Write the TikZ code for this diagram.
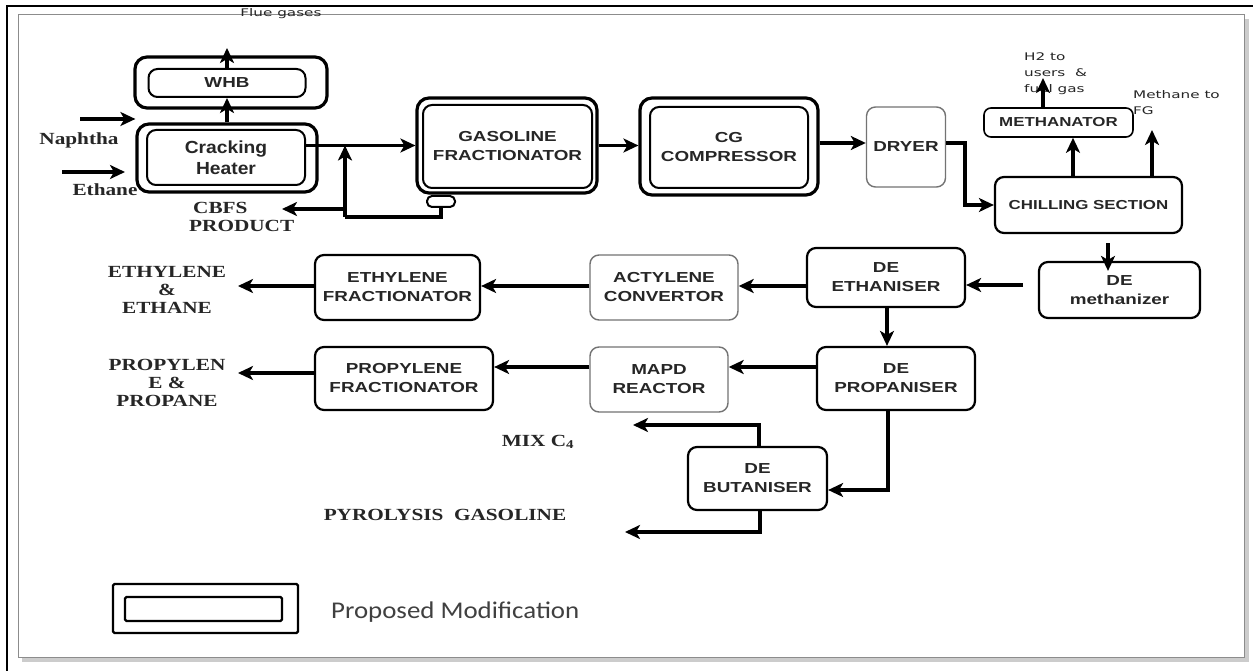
\documentclass[tikz,border=0pt]{standalone}
\usepackage{fontspec}
\usetikzlibrary{arrows.meta}
\newfontfamily\boxfont[FakeStretch=1.3]{Liberation Sans}
\newfontfamily\heatfont[FakeStretch=1.1]{Liberation Sans}
\newfontfamily\labfont[FakeStretch=1.25]{Liberation Serif}
\newfontfamily\notefont[FakeStretch=1.45]{DejaVu Sans}
\newfontfamily\legfont[FakeStretch=1.12]{Carlito}

\tikzset{
  unitbox/.style={draw, rounded corners=9pt, line width=2.2pt, align=center, inner sep=0pt,
    text=black!85, font={\boxfont\bfseries\fontsize{14.5pt}{19pt}\selectfont}},
  smallunit/.style={unitbox, font={\boxfont\bfseries\fontsize{13pt}{17pt}\selectfont}},
  lightbox/.style={unitbox, draw=black!55, line width=1.4pt},
  outerbox/.style={draw, rounded corners=12pt, line width=3.2pt, inner sep=0pt},
  innerbox/.style={unitbox, rounded corners=9pt, line width=2pt},
  flow/.style={line width=3.2pt},
  arr/.style={flow, -{Stealth[length=15pt,width=14pt,inset=4pt]}},
  lab/.style={align=center, inner sep=0pt, text=black!85,
    font={\labfont\bfseries\fontsize{17pt}{18pt}\selectfont}},
  note/.style={inner sep=0pt, text=black!85,
    font={\notefont\fontsize{10.5pt}{16pt}\selectfont}},
}

\begin{document}
\begin{tikzpicture}[x=1pt,y=-1pt]
\useasboundingbox (0,0) rectangle (1253,671);
\fill[white] (0,0) rectangle (1253,671);

% page frame with its shadow
\draw[black!20, line width=4pt] (22,660) -- (1247,660) -- (1247,19);
\draw[black!45, line width=1pt] (18,15) rectangle (1244,657);
\draw[line width=2pt] (7,671) -- (7,6) -- (1253,6);

% cracking section
\node[outerbox, minimum width=192pt, minimum height=51pt] (whbO) at (231,82.5) {};
\node[innerbox, minimum width=157pt, minimum height=28pt] (whb) at (227,83) {WHB};
\node[outerbox, minimum width=180pt, minimum height=68pt] (heatO) at (227,158) {};
\node[innerbox, minimum width=158pt, minimum height=55pt,
  font={\heatfont\bfseries\fontsize{17.5pt}{21pt}\selectfont}] (heat) at (226,157.5) {Cracking\\Heater};

% hot section
\node[outerbox, minimum width=180pt, minimum height=95pt] (gasO) at (507,145.5) {};
\node[innerbox, minimum width=169pt, minimum height=83pt] (gas) at (507.5,146.5) {GASOLINE\\FRACTIONATOR};
\node[draw, rounded corners=5pt, line width=2pt, minimum width=28pt, minimum height=11pt, inner sep=0pt] (pot) at (441,201.5) {};
\node[outerbox, minimum width=178pt, minimum height=97pt] (cgO) at (729,146.5) {};
\node[innerbox, minimum width=158pt, minimum height=81pt] (cg) at (729,147.5) {CG\\COMPRESSOR};
\node[lightbox, minimum width=79pt, minimum height=80pt] (dryer) at (906,147) {DRYER};

% cold section
\node[smallunit, minimum width=187pt, minimum height=56pt] (chill) at (1088.5,205) {CHILLING SECTION};
\node[smallunit, line width=1.6pt, rounded corners=7pt, minimum width=149pt, minimum height=29pt] (meth) at (1058.5,122.5) {METHANATOR};
\node[unitbox, minimum width=161pt, minimum height=56pt] (demeth) at (1119.5,290) {DE\\methanizer};
\node[unitbox, minimum width=158pt, minimum height=59pt] (deeth) at (886,277.5) {DE\\ETHANISER};
\node[lightbox, minimum width=148pt, minimum height=65pt] (acty) at (664,287.5) {ACTYLENE\\CONVERTOR};
\node[unitbox, minimum width=165pt, minimum height=65pt] (ethfr) at (397.5,287.5) {ETHYLENE\\FRACTIONATOR};
\node[unitbox, minimum width=158pt, minimum height=63pt] (deprop) at (896,378.5) {DE\\PROPANISER};
\node[lightbox, minimum width=138pt, minimum height=65pt] (mapd) at (659,379.5) {MAPD\\REACTOR};
\node[unitbox, minimum width=178pt, minimum height=63pt] (propfr) at (404,378.5) {PROPYLENE\\FRACTIONATOR};
\node[unitbox, minimum width=139pt, minimum height=63pt] (debut) at (757.5,478.5) {DE\\BUTANISER};

% stream labels
\node[note] (fluel) at (281,14) {Flue gases};
\node[lab] (naphl) at (79,140) {Naphtha};
\node[lab] (ethl) at (105,190) {Ethane};
\node[lab, align=left, anchor=west] (cbfsl) at (189,217) {\hspace{4pt}CBFS\\PRODUCT};
\node[note, align=left, anchor=west] (h2l) at (1024,74) {H2 to\\users~~\&\\fuel gas};
\node[note, align=left, anchor=west] (mfgl) at (1133,103) {Methane to\\FG};
\node[lab] (ethyl) at (167,290) {ETHYLENE\\\&\\ETHANE};
\node[lab] (propyl) at (167,383) {PROPYLEN\\E \&\\PROPANE};
\node[lab] (mixl) at (538,442) {MIX C\textsubscript{4}};
\node[lab] (pyrol) at (445,515) {PYROLYSIS\ \ GASOLINE};

% junctions and free ends
\coordinate (flue) at (227,48);
\coordinate (naph) at (80,119);
\coordinate (eth0) at (62,172);
\coordinate (eth1) at (125,172);
\coordinate (rj) at (345,217);
\coordinate (cbj) at (345,209);
\coordinate (cbt) at (282,209);
\coordinate (dk) at (965,143);
\coordinate (mx1) at (1073,0);
\coordinate (mx2) at (1043,0);
\coordinate (mx3) at (1152,0);
\coordinate (mx4) at (1108,0);
\coordinate (h2) at (1043,78);
\coordinate (mfg) at (1152,130);
\coordinate (dmo) at (1023,285);
\coordinate (r1) at (0,286);
\coordinate (r2) at (0,367);
\coordinate (eo) at (238,286);
\coordinate (po) at (238,373);
\coordinate (dx) at (887,0);
\coordinate (bj) at (888,490);
\coordinate (c4j) at (759,425);
\coordinate (c4t) at (633,425);
\coordinate (pgj) at (760,532);
\coordinate (pgt) at (625,532);

% streams
\draw[arr] (heatO.north) -- (whb.south);
\draw[arr] (whb.north) -- (flue);
\draw[arr] (naph) -- (naph -| heatO.west);
\draw[arr] (eth0) -- (eth1);
\draw[arr] (heat.east |- gasO.west) -- (gasO.west);
\draw[flow] (pot.south) |- (rj);
\draw[arr] (rj) -- (rj |- gasO.west);
\draw[arr] (cbj) -- (cbt);
\draw[arr] (gasO.east) -- (gasO.east -| cgO.west);
\draw[arr] (cgO.east |- dk) -- (dk -| dryer.west);
\draw[arr] (dryer.east |- dk) -- (dk) |- (chill.west);
\draw[arr] (chill.north -| mx1) -- (meth.south -| mx1);
\draw[arr] (meth.north -| mx2) -- (h2);
\draw[arr] (chill.north -| mx3) -- (mfg);
\draw[arr, shorten <=9pt, shorten >=-10pt] (chill.south -| mx4) -- (demeth.north -| mx4);
\draw[arr] (dmo) -- (dmo -| deeth.east);
\draw[arr] (deeth.west |- r1) -- (acty.east |- r1);
\draw[arr] (acty.west |- r1) -- (ethfr.east |- r1);
\draw[arr] (ethfr.west |- r1) -- (eo);
\draw[arr] (deeth.south -| dx) -- (deprop.north -| dx);
\draw[arr] (deprop.west |- r2) -- (mapd.east |- r2);
\draw[arr] (mapd.west |- r2) -- (propfr.east |- r2);
\draw[arr] (propfr.west |- po) -- (po);
\draw[arr] (deprop.south -| bj) -- (bj) -- (bj -| debut.east);
\draw[arr] (debut.north -| c4j) -- (c4j) -- (c4t);
\draw[arr] (debut.south -| pgj) -- (pgj) -- (pgt);

% legend
\node[draw, line width=2.4pt, rounded corners=1.5pt, minimum width=185pt, minimum height=49pt, inner sep=0pt] (legO) at (205.5,608.5) {};
\node[draw, line width=2.4pt, rounded corners=1.5pt, minimum width=157pt, minimum height=24pt, inner sep=0pt] (legI) at (203.5,609) {};
\node[anchor=west, inner sep=0pt, text=black!75, font={\legfont\fontsize{24pt}{28pt}\selectfont}] (legt) at (331,612) {Proposed Modification};
\end{tikzpicture}
\end{document}
